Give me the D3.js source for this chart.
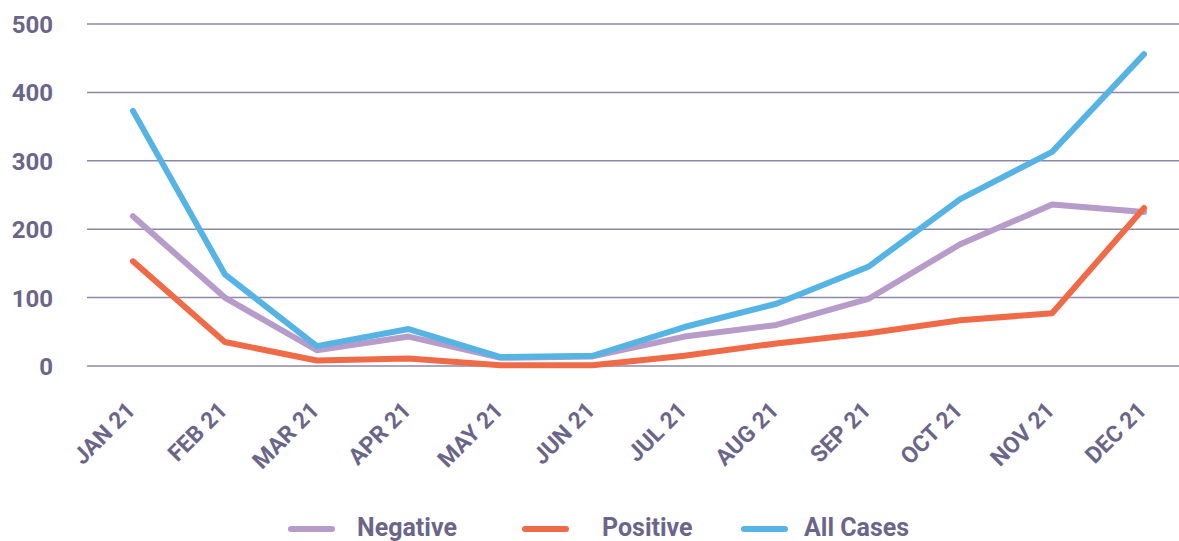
<!DOCTYPE html>
<html>
<head>
<meta charset="utf-8">
<script src="https://cdn.jsdelivr.net/npm/d3@7"></script>
<style>
  body { margin: 0; background: #fff; }
  text { font-family: Roboto, "DejaVu Sans", sans-serif; font-weight: 700; fill: #6b6688; }
</style>
</head>
<body>
<svg width="1179" height="541"></svg>
<script>
// months on the x axis
var months = ["JAN 21", "FEB 21", "MAR 21", "APR 21", "MAY 21", "JUN 21",
              "JUL 21", "AUG 21", "SEP 21", "OCT 21", "NOV 21", "DEC 21"];
// series values
var negative = [219, 100, 23, 43, 12, 14, 43, 60, 98, 178, 236, 225];
var positive = [153, 35, 8, 11, 1, 1, 15, 33, 48, 67, 77, 231];
var allCases = [373, 134, 29, 54, 13, 15, 57, 91, 145, 244, 313, 456];
var yTicks = [0, 100, 200, 300, 400, 500];

var series = [
  { name: "Negative", values: negative, color: "#b79bc9" },
  { name: "Positive", values: positive, color: "#ef6b47" },
  { name: "All Cases", values: allCases, color: "#56b4e4" }
];

var svg = d3.select("svg");

var x = d3.scaleBand().domain(months).range([87, 1190]); // plot runs off the right edge a bit like the original
var y = d3.scaleLinear().domain([0, 500]).range([366, 24]);

// gridlines
svg.append("g")
   .selectAll("line")
   .data(yTicks)
   .enter().append("line")
   .attr("x1", 87)
   .attr("x2", 1179)
   .attr("y1", function(d) { return y(d); })
   .attr("y2", function(d) { return y(d); })
   .attr("stroke", "#8c88a6")
   .attr("stroke-width", 1.5);

// y labels
var yAxis = svg.append("g")
   .attr("transform", "translate(53,0)")
   .call(d3.axisLeft(y).tickValues(yTicks).tickSize(0).tickPadding(0));
yAxis.select(".domain").remove();
yAxis.selectAll("text")
     .attr("font-size", "24px")
     .attr("dy", "0.35em")
     .style("font-family", "Roboto, sans-serif")
     .style("font-weight", 700)
     .style("fill", "#6b6688");

// x labels, rotated
var xAxis = svg.append("g")
   .attr("transform", "translate(0,390)")
   .call(d3.axisBottom(x).tickSize(0).tickPadding(0));
xAxis.select(".domain").remove();
xAxis.selectAll("text")
     .attr("font-size", "23px")
     .attr("text-anchor", "end")
     .attr("dy", "0.35em")
     .attr("transform", "translate(-2,16) rotate(-45)")
     .style("font-family", "Roboto, sans-serif")
     .style("font-weight", 700)
     .style("fill", "#6b6688");

var line = d3.line()
   .x(function(d, i) { return x(months[i]) + x.bandwidth() / 2; })
   .y(function(d) { return y(d); });

svg.selectAll(".series")
   .data(series)
   .enter().append("path")
   .attr("class", "series")
   .attr("d", function(d) { return line(d.values); })
   .attr("fill", "none")
   .attr("stroke", function(d) { return d.color; })
   .attr("stroke-width", 6)
   .attr("stroke-linejoin", "round")
   .attr("stroke-linecap", "round");

// legend
var legendPos = [{ lx: 291, tx: 357 }, { lx: 525, tx: 602 }, { lx: 744, tx: 804 }];
var legend = svg.append("g")
   .selectAll("g")
   .data(series)
   .enter().append("g");
legend.append("line")
   .attr("x1", function(d, i) { return legendPos[i].lx; })
   .attr("x2", function(d, i) { return legendPos[i].lx + 41; })
   .attr("y1", 529)
   .attr("y2", 529)
   .attr("stroke", function(d) { return d.color; })
   .attr("stroke-width", 6)
   .attr("stroke-linecap", "round");
legend.append("text")
   .attr("x", function(d, i) { return legendPos[i].tx; })
   .attr("y", 536)
   .attr("font-size", "25px")
   .text(function(d) { return d.name; });
</script>
</body>
</html>
